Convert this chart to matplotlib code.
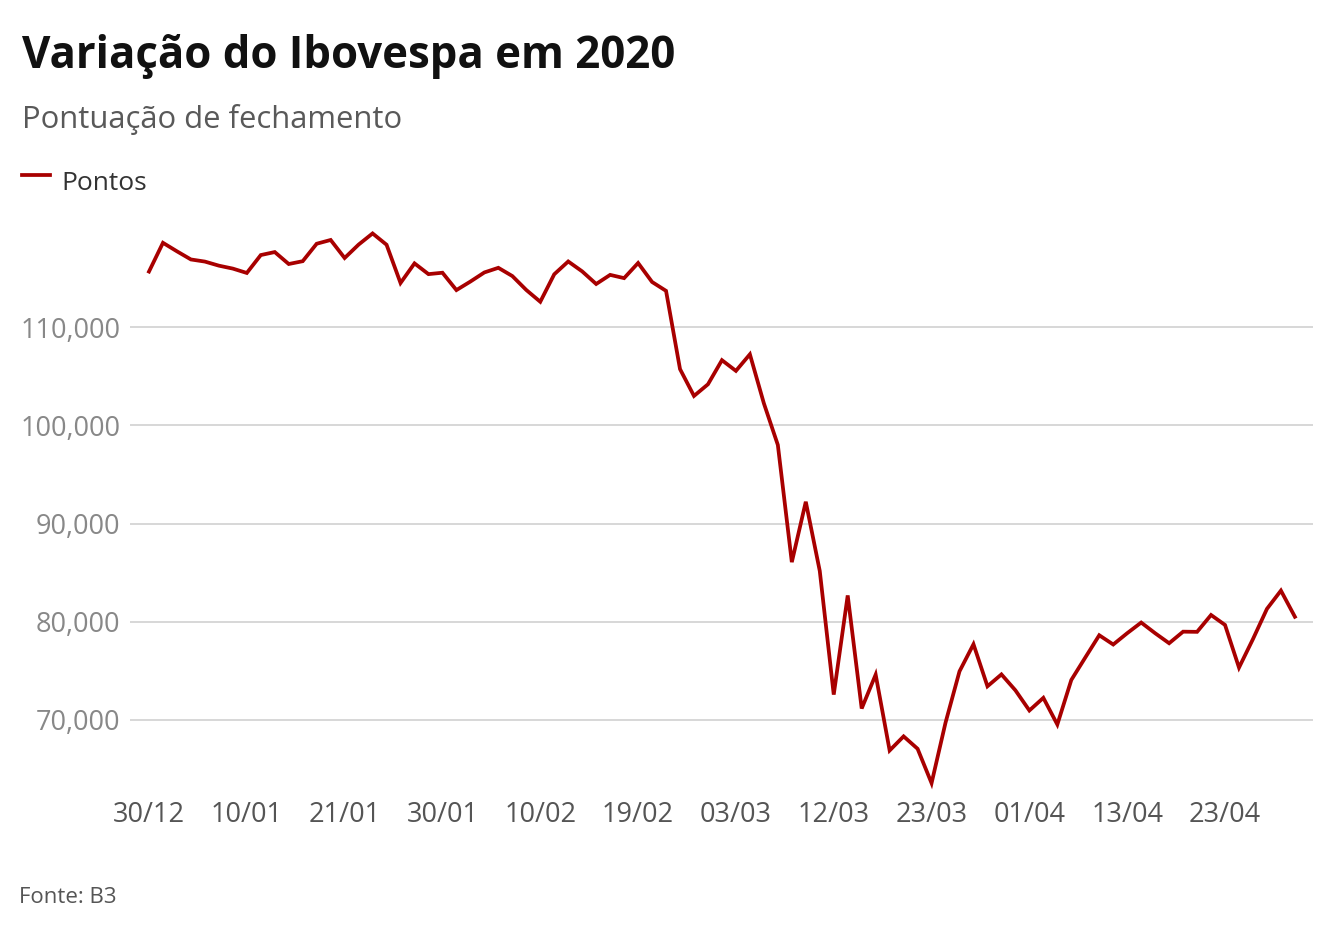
import numpy as np
import matplotlib
matplotlib.use('Agg')
import matplotlib.pyplot as plt
from matplotlib.lines import Line2D

# Fechamento do Ibovespa (pontos), pregões de 30/12/2019 a 30/04/2020
pontos = [115645, 118573, 117707, 116878, 116662, 116247, 115947, 115503,
          117325, 117632, 116414, 116701, 118478, 118862, 117026, 118391,
          119528, 118376, 114482, 116479, 115385, 115528, 113761, 114629,
          115557, 116028, 115190, 113770, 112571, 115371, 116674, 115662,
          114381, 115309, 114977, 116518, 114586, 113681, 105718, 102984,
          104172, 106625, 105537, 107224, 102233, 97997, 86067, 92214,
          85171, 72583, 82678, 71168, 74617, 66895, 68332, 67069,
          63570, 69729, 74955, 77710, 73429, 74640, 73020, 70967,
          72253, 69538, 74073, 76358, 78625, 77682, 78835, 79918,
          78831, 77812, 78990, 78972, 80687, 79673, 75331, 78239,
          81312, 83170, 80506]
tick_pos = [0, 7, 14, 21, 28, 35, 42, 49, 56, 63, 70, 77]
tick_labels = ['30/12', '10/01', '21/01', '30/01', '10/02', '19/02',
               '03/03', '12/03', '23/03', '01/04', '13/04', '23/04']
y_ticks = [70000, 80000, 90000, 100000, 110000]

plt.rcParams['font.family'] = ['Open Sans', 'DejaVu Sans']

fig = plt.figure(figsize=(13.4, 9.4), dpi=100)
ax = fig.add_axes([0.0970, 0.1596, 0.8829, 0.6010])

ax.plot(np.arange(len(pontos)), pontos, color='#a80000', lw=2.7,
        solid_joinstyle='miter', zorder=3)

ax.set_xlim(-1.36, 83.3)
ax.set_ylim(62875, 120382)
ax.set_xticks(tick_pos)
ax.set_xticklabels(tick_labels)
ax.set_yticks(y_ticks)
ax.set_yticklabels(['{:,}'.format(v) for v in y_ticks])
ax.tick_params(axis='x', length=0, pad=8, labelsize=19.5, labelcolor='#555555')
ax.tick_params(axis='y', length=0, pad=7, labelsize=19.5, labelcolor='#888888')
ax.grid(axis='y', color='#d4d4d4', lw=1.3)
for s in ax.spines.values():
    s.set_visible(False)

fig.text(22/1340, 1 - 68/940, 'Variação do Ibovespa em 2020', fontsize=31.5,
         fontweight='bold', color='#111111', va='baseline', ha='left')
fig.text(22/1340, 1 - 128/940, 'Pontuação de fechamento', fontsize=22.3,
         color='#595959', va='baseline', ha='left')
fig.add_artist(Line2D([22/1340, 50/1340], [1 - 175/940, 1 - 175/940],
                      color='#a80000', lw=2.7, transform=fig.transFigure))
fig.text(61/1340, 1 - 190/940, 'Pontos', fontsize=19, color='#333333',
         va='baseline', ha='left')
fig.text(19/1340, 1 - 903/940, 'Fonte: B3', fontsize=16, color='#555555',
         va='baseline', ha='left')

fig.savefig('out.png', dpi=100)
